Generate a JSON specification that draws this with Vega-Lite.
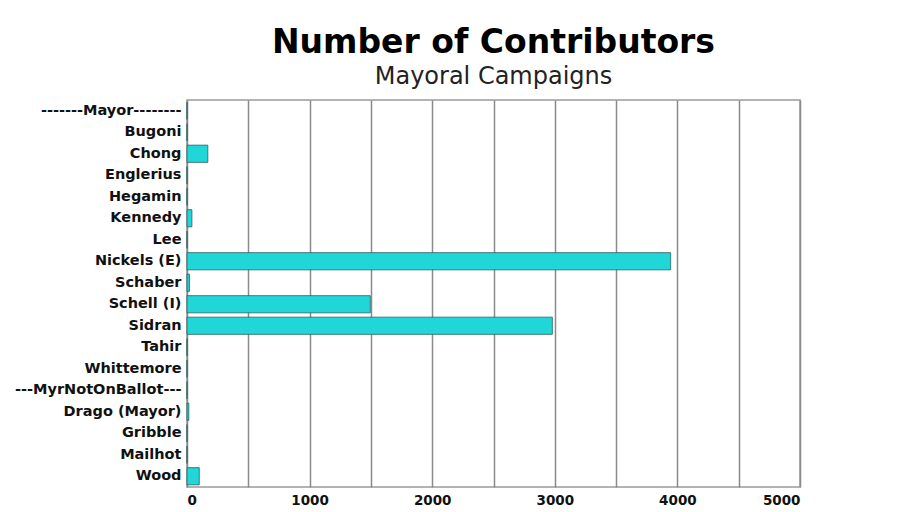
{
  "$schema": "https://vega.github.io/schema/vega-lite/v6.json",
  "autosize": "none",
  "width": 613,
  "height": 387,
  "padding": {"left": 187, "top": 100, "right": 104, "bottom": 25},
  "background": "white",
  "config": {"view": {"stroke": "#9a9a9a", "strokeWidth": 1.5}},
  "title": {
    "text": "Number of Contributors",
    "subtitle": "Mayoral Campaigns",
    "anchor": "middle",
    "font": "DejaVu Sans",
    "fontSize": 33,
    "fontWeight": "bold",
    "color": "#000000",
    "subtitleFont": "DejaVu Sans",
    "subtitleFontSize": 24,
    "subtitleColor": "#222222",
    "subtitlePadding": 5,
    "offset": 11
  },
  "data": {
    "values": [
      {"candidate": "-------Mayor--------", "contributors": 0},
      {"candidate": "Bugoni", "contributors": 0},
      {"candidate": "Chong", "contributors": 170},
      {"candidate": "Englerius", "contributors": 0},
      {"candidate": "Hegamin", "contributors": 0},
      {"candidate": "Kennedy", "contributors": 40},
      {"candidate": "Lee", "contributors": 0},
      {"candidate": "Nickels (E)", "contributors": 3945},
      {"candidate": "Schaber", "contributors": 20},
      {"candidate": "Schell (I)", "contributors": 1495},
      {"candidate": "Sidran", "contributors": 2980},
      {"candidate": "Tahir", "contributors": 0},
      {"candidate": "Whittemore", "contributors": 0},
      {"candidate": "---MyrNotOnBallot---", "contributors": 0},
      {"candidate": "Drago (Mayor)", "contributors": 15},
      {"candidate": "Gribble", "contributors": 0},
      {"candidate": "Mailhot", "contributors": 0},
      {"candidate": "Wood", "contributors": 100}
    ]
  },
  "mark": {"type": "bar", "fill": "#20d6d6", "stroke": "#2a6060", "strokeWidth": 0.8},
  "encoding": {
    "y": {
      "field": "candidate",
      "type": "nominal",
      "sort": null,
      "scale": {"paddingInner": 0.2, "paddingOuter": 0.1},
      "axis": {
        "title": null,
        "ticks": false,
        "domain": false,
        "labelFont": "DejaVu Sans",
        "labelFontSize": 14.5,
        "labelFontWeight": "bold",
        "labelColor": "#111111",
        "labelPadding": 6
      }
    },
    "x": {
      "field": "contributors",
      "type": "quantitative",
      "scale": {"domain": [0, 5000], "nice": false},
      "axis": {
        "title": null,
        "values": [0, 500, 1000, 1500, 2000, 2500, 3000, 3500, 4000, 4500, 5000],
        "labelExpr": "datum.value % 1000 === 0 ? datum.label : ''",
        "format": "d",
        "ticks": false,
        "domain": false,
        "grid": true,
        "gridColor": "#8a8a8a",
        "gridWidth": 1.5,
        "gridOpacity": 1,
        "labelFont": "DejaVu Sans",
        "labelFontSize": 13.5,
        "labelFontWeight": "bold",
        "labelColor": "#111111",
        "labelPadding": 6
      }
    }
  }
}
